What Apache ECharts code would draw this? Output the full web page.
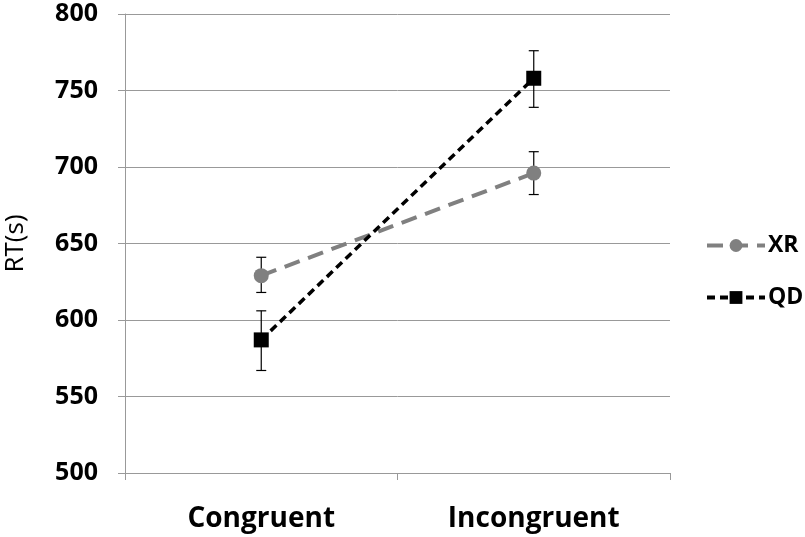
<!DOCTYPE html>
<html><head><meta charset="utf-8">
<script src="https://cdn.jsdelivr.net/npm/echarts@6/dist/echarts.min.js"></script>
<style>html,body{margin:0;padding:0;background:#fff}#c{width:805px;height:537px}</style>
</head><body><div id="c"></div>
<script>
const categories = ['Congruent', 'Incongruent'];
const xrMean = [629, 696];
const xrLow = [618, 682];
const xrHigh = [641, 710];
const qdMean = [587, 758];
const qdLow = [567, 739];
const qdHigh = [606, 776];
const yTicks = [500, 550, 600, 650, 700, 750, 800];

const FONT = '"Open Sans", "Liberation Sans", sans-serif';
const chart = echarts.init(document.getElementById('c'));

function errBar(low, high) {
  return {
    type: 'custom',
    z: 1,
    silent: true,
    data: categories.map((c, i) => [i, low[i], high[i]]),
    renderItem: function (params, api) {
      const x = api.coord([api.value(0), api.value(1)])[0];
      const yl = api.coord([api.value(0), api.value(1)])[1];
      const yh = api.coord([api.value(0), api.value(2)])[1];
      const w = 5;
      const st = { stroke: '#000', lineWidth: 1.2 };
      return {
        type: 'group',
        children: [
          { type: 'line', shape: { x1: x, y1: yl, x2: x, y2: yh }, style: st },
          { type: 'line', shape: { x1: x - w, y1: yl, x2: x + w, y2: yl }, style: st },
          { type: 'line', shape: { x1: x - w, y1: yh, x2: x + w, y2: yh }, style: st }
        ]
      };
    }
  };
}

chart.setOption({
  animation: false,
  backgroundColor: '#fff',
  grid: { left: 125, right: 135, top: 14, bottom: 64, containLabel: false, outerBoundsMode: 'none' },
  legend: {
    orient: 'vertical',
    left: 700,
    top: 229,
    itemGap: 29,
    itemWidth: 58,
    itemHeight: 16,
    lineStyle: { width: 4 },
    textStyle: { fontFamily: FONT, fontWeight: 'bold', fontSize: 23, color: '#000', padding: [0, 0, 0, -2] },
    data: ['XR', 'QD']
  },
  xAxis: {
    type: 'category',
    data: categories,
    boundaryGap: true,
    axisLine: { lineStyle: { color: '#999', width: 1 } },
    axisTick: { show: true, length: 7, lineStyle: { color: '#999' } },
    axisLabel: { fontFamily: FONT, fontWeight: 'bold', fontSize: 28, color: '#000', margin: 32 },
    splitLine: { show: false }
  },
  yAxis: {
    type: 'value',
    min: yTicks[0],
    max: yTicks[yTicks.length - 1],
    interval: 50,
    name: 'RT(s)',
    nameLocation: 'middle',
    nameGap: 96,
    nameTextStyle: { fontFamily: FONT, fontSize: 26, color: '#000' },
    axisLine: { show: true, lineStyle: { color: '#999', width: 1 } },
    axisTick: { show: true, length: 7, lineStyle: { color: '#999' } },
    axisLabel: { fontFamily: FONT, fontWeight: 'bold', fontSize: 25, color: '#000', margin: 27 },
    splitLine: { show: true, lineStyle: { color: '#999', width: 1 } }
  },
  series: [
    errBar(xrLow, xrHigh),
    errBar(qdLow, qdHigh),
    {
      name: 'XR',
      type: 'line',
      z: 3,
      data: xrMean,
      symbol: 'circle',
      symbolSize: 15,
      itemStyle: { color: '#808080' },
      lineStyle: { color: '#808080', width: 4, type: [16, 9] }
    },
    {
      name: 'QD',
      type: 'line',
      z: 4,
      data: qdMean,
      symbol: 'rect',
      symbolSize: 15,
      itemStyle: { color: '#000' },
      lineStyle: { color: '#000', width: 3.5, type: [8, 5] }
    }
  ]
});
</script></body></html>
